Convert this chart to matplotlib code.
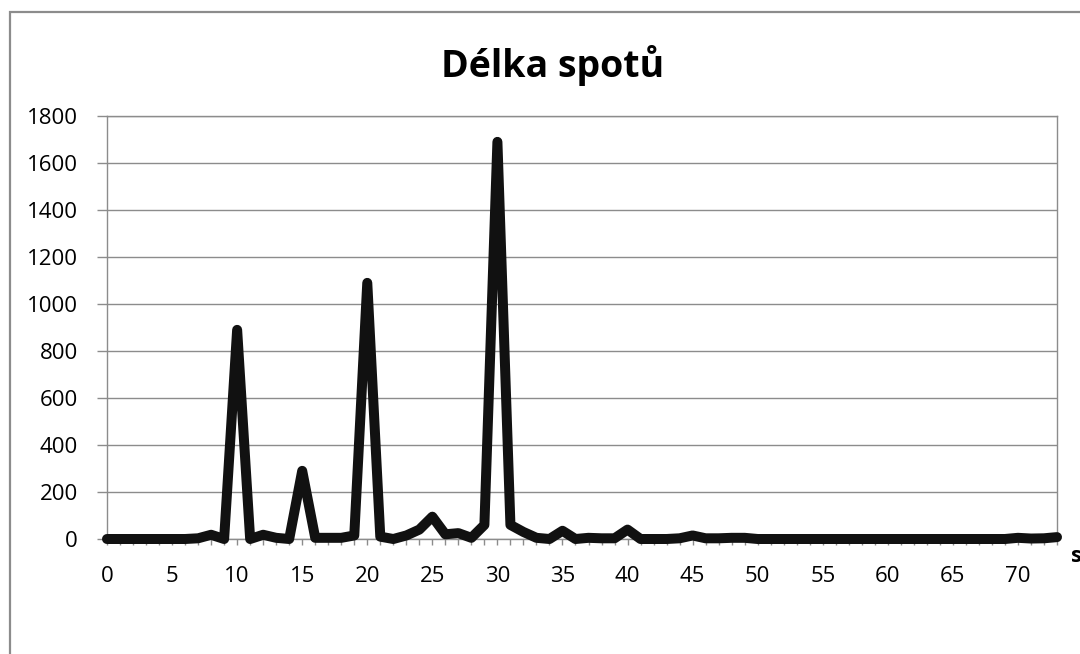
import matplotlib.pyplot as plt
from matplotlib.patches import Rectangle
from matplotlib.ticker import MultipleLocator

# počet spotů podle délky (s)
delka = list(range(0, 74))
pocet = [0, 0, 0, 0, 0, 0, 0, 3, 18, 0,
         890, 0, 18, 5, 0, 290, 5, 5, 5, 15,
         1090, 10, 0, 15, 40, 95, 20, 25, 5, 60,
         1690, 60, 30, 5, 0, 35, 0, 5, 3, 3,
         40, 0, 0, 0, 3, 15, 3, 3, 5, 5,
         0, 0, 0, 0, 0, 0, 0, 0, 0, 0,
         0, 0, 0, 0, 0, 0, 0, 0, 0, 0,
         5, 2, 3, 8]
x_labels = list(range(0, 71, 5))
y_ticks = list(range(0, 1801, 200))

plt.rcParams['font.family'] = ['Open Sans', 'DejaVu Sans']

W, H = 1080, 654
fig = plt.figure(figsize=(W / 100, H / 100), dpi=100)

# rámeček grafu (oříznutý vpravo a dole)
fig.patches.append(Rectangle((10 / W, -0.1), 1.2, 1 - 12 / H + 0.1,
                             transform=fig.transFigure, fill=False,
                             edgecolor='#8c8c8c', linewidth=1.6))

ax = fig.add_axes([107 / W, 1 - 539 / H, (1057 - 107) / W, (539 - 116) / H])

ax.plot(delka, pocet, color='#111111', linewidth=7.2,
        solid_joinstyle='round', solid_capstyle='round', clip_on=False, zorder=3)

ax.set_xlim(0, 73)
ax.set_ylim(0, 1800)
ax.set_yticks(y_ticks)
ax.set_xticks(x_labels)
ax.xaxis.set_minor_locator(MultipleLocator(1))
ax.grid(axis='y', color='#8c8c8c', linewidth=1)
ax.set_axisbelow(True)

for s in ax.spines.values():
    s.set_color('#8c8c8c')
    s.set_linewidth(1)

ax.tick_params(axis='y', length=7, width=1, color='#8c8c8c', labelsize=16, pad=14)
ax.tick_params(axis='x', which='both', length=4.5, width=1, color='#8c8c8c')
ax.tick_params(axis='x', which='major', labelsize=16, pad=15)

fig.text(553 / W, 1 - 66 / H, 'Délka spotů', ha='center', va='center',
         fontsize=27, fontweight='bold')
fig.text(1071 / W, 1 - 556 / H, 's', ha='left', va='center',
         fontsize=16, fontweight='bold')

fig.savefig('out.png', dpi=100)
